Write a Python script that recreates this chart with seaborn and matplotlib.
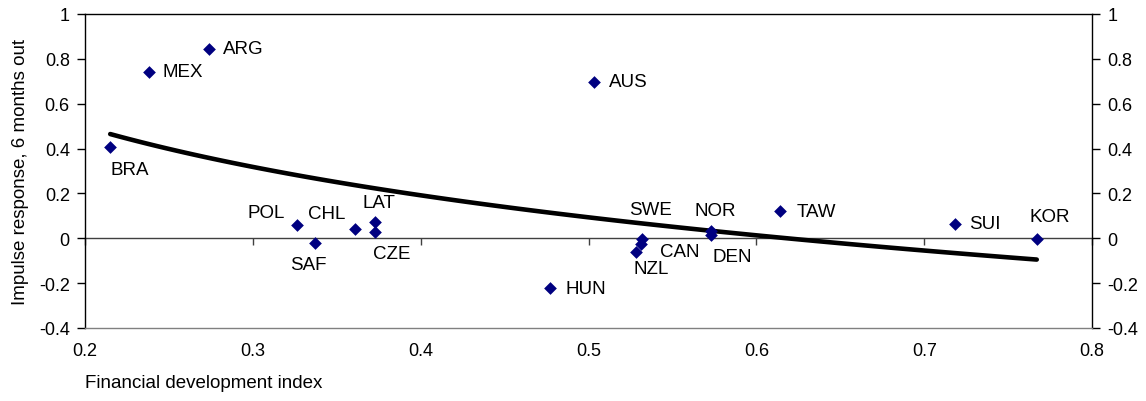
# financial development vs impulse response scatter with log trendline
import numpy as np
import pandas as pd
import seaborn as sns
import matplotlib.pyplot as plt

sns.set_theme(style="white")
plt.rcParams['font.family'] = ['Liberation Sans', 'DejaVu Sans']
plt.rcParams['text.color'] = 'black'
plt.rcParams['axes.labelcolor'] = 'black'
plt.rcParams['xtick.color'] = 'black'
plt.rcParams['ytick.color'] = 'black'

countries = ["BRA", "MEX", "ARG", "AUS", "POL", "SAF", "CHL", "LAT", "CZE",
             "SWE", "CAN", "NZL", "HUN", "NOR", "DEN", "TAW", "SUI", "KOR"]
fin_dev = [0.215, 0.238, 0.274, 0.503, 0.326, 0.337, 0.361, 0.373, 0.373,
           0.532, 0.531, 0.528, 0.477, 0.573, 0.573, 0.614, 0.718, 0.767]
impulse = [0.406, 0.743, 0.844, 0.698, 0.061, -0.022, 0.041, 0.074, 0.027,
           -0.003, -0.025, -0.060, -0.223, 0.034, 0.015, 0.120, 0.064, -0.005]

# label offsets in pixels (dx, dy, ha)
label_pos = {
    "BRA": (0, -22, "left"), "MEX": (14, 0, "left"), "ARG": (14, 0, "left"),
    "AUS": (15, 0, "left"), "POL": (-12, 12, "right"), "SAF": (-7, -21, "center"),
    "CHL": (-10, 16, "right"), "LAT": (4, 19, "center"), "CZE": (-2, -21, "left"),
    "SWE": (8, 29, "center"), "CAN": (19, -8, "left"), "NZL": (-2, -17, "left"),
    "HUN": (16, 0, "left"), "NOR": (4, 20, "center"), "DEN": (1, -22, "left"),
    "TAW": (17, 0, "left"), "SUI": (15, 0, "left"), "KOR": (13, 23, "center"),
}

df = pd.DataFrame({"country": countries, "fd": fin_dev, "ir": impulse})

fig, ax = plt.subplots(figsize=(11.46, 4.02), dpi=100)
fig.subplots_adjust(left=0.0742, right=0.953, top=0.9627, bottom=0.1816)

sns.regplot(data=df, x="fd", y="ir", logx=True, ci=None, scatter=False,
            line_kws={"color": "black", "lw": 3.3, "solid_capstyle": "round"},
            truncate=True, ax=ax)
sns.scatterplot(data=df, x="fd", y="ir", marker="D", s=42, color="#000080",
                edgecolor="#000080", linewidth=0, zorder=5, ax=ax)

for c, x, y in zip(countries, fin_dev, impulse):
    dx, dy, ha = label_pos[c]
    ax.annotate(c, (x, y), xytext=(dx, dy), textcoords="offset pixels",
                ha=ha, va="center", fontsize=13.5, color="black")

ax.set_xlim(0.2, 0.8)
ax.set_ylim(-0.4, 1.0)
ax.set_yticks(np.arange(-0.4, 1.01, 0.2))
ax.set_yticklabels(["-0.4", "-0.2", "0", "0.2", "0.4", "0.6", "0.8", "1"])
ax.set_xticks([0.2, 0.3, 0.4, 0.5, 0.6, 0.7, 0.8])
ax.set_xticklabels(["0.2", "0.3", "0.4", "0.5", "0.6", "0.7", "0.8"])

ax.tick_params(axis="x", length=0, pad=10, labelsize=13)
ax.tick_params(axis="y", direction="out", length=6, width=1, color="black",
               left=True, right=True, labelleft=True, labelright=True,
               labelsize=13, pad=5)

for s in ["left", "right", "top"]:
    ax.spines[s].set_color("black")
    ax.spines[s].set_linewidth(1)
ax.spines["bottom"].set_color("#808080")
ax.spines["bottom"].set_linewidth(1)

# horizontal axis crossing at zero with tick marks
zero = ax.secondary_xaxis(0.4 / 1.4)
zero.set_xticks([0.2, 0.3, 0.4, 0.5, 0.6, 0.7, 0.8])
zero.tick_params(axis="x", direction="out", length=5, width=1, color="#404040",
                 labelbottom=False)
zero.spines["bottom"].set_color("#404040")
zero.spines["bottom"].set_linewidth(1)

ax.set_xlabel("Financial development index", fontsize=13.5, loc="left",
              labelpad=11)
ax.set_ylabel("Impulse response, 6 months out", fontsize=13.5, labelpad=7)

fig.savefig("out.png", dpi=100)
